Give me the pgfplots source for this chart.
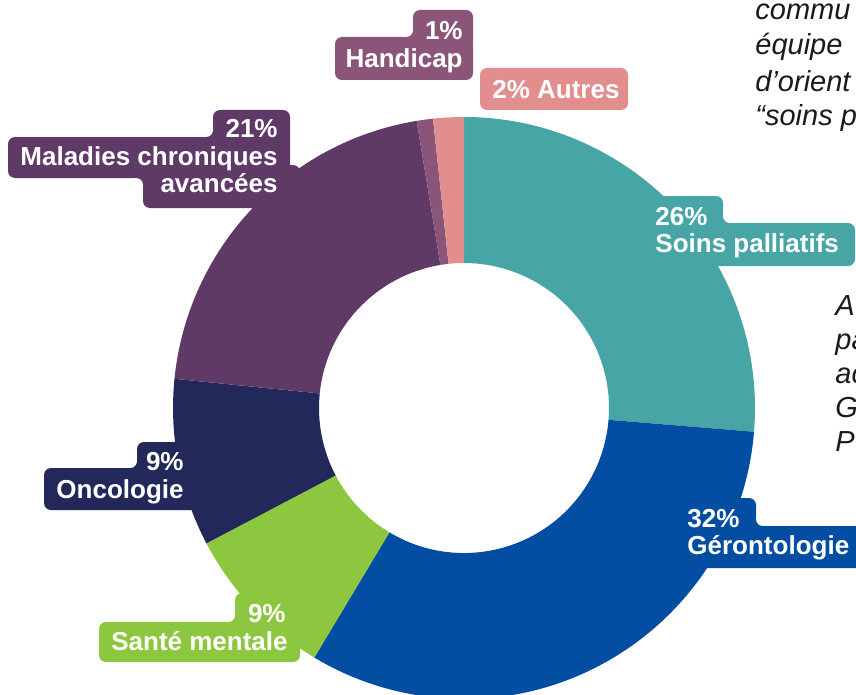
\documentclass[border=0pt]{standalone}
\usepackage{pgfplots}
\pgfplotsset{compat=1.18}
\usepackage{fontspec}
\setmainfont{Liberation Sans}

\definecolor{cSoins}{HTML}{48A5A5}
\definecolor{cGeronto}{HTML}{034EA2}
\definecolor{cSante}{HTML}{8DC63F}
\definecolor{cOnco}{HTML}{222859}
\definecolor{cMaladies}{HTML}{5F3A67}
\definecolor{cHandicap}{HTML}{8B5579}
\definecolor{cAutres}{HTML}{E28E8F}
\definecolor{cTexte}{HTML}{1A1A1A}

\newcommand\lbl{\fontsize{13bp}{15bp}\selectfont\bfseries}
\newcommand\itl{\fontsize{14.5bp}{17bp}\selectfont\itshape}

% ring: centre (464,408) px, outer 291 px, inner 145 px ; 1 px = 0.5bp
% #1 start (cumulative %), #2 end (cumulative %), #3 colour
\newcommand\slice[3]{%
  \fill[#3] (axis cs:{464+291*cos(90-3.6*#1)},{408-291*sin(90-3.6*#1)})
    arc[start angle={90-3.6*#1}, end angle={90-3.6*#2}, radius=145.5bp]
    -- (axis cs:{464+145*cos(90-3.6*#2)},{408-145*sin(90-3.6*#2)})
    arc[start angle={90-3.6*#2}, end angle={90-3.6*#1}, radius=72.5bp]
    -- cycle;}
% label box
\newcommand\lbox[5]{%
  \fill[#1, rounded corners=3.5bp] (axis cs:#2,#3) rectangle (axis cs:#4,#5);}
% concave corner: square corner (#2,#3)-(#4,#5), white circle at (#4,#5)
\newcommand\fillet[5]{%
  \fill[#1] (axis cs:#2,#3) rectangle (axis cs:#4,#5);
  \fill[white] (axis cs:#4,#5) circle[radius=3.5bp];}

\begin{document}
\begin{tikzpicture}
\begin{axis}[
    width=428bp, height=347.5bp,
    scale only axis,
    xmin=0, xmax=856,
    ymin=0, ymax=695,
    y dir=reverse,
    hide axis,
]
% slices, clockwise from the top
\slice{0}{26.3}{cSoins}
\slice{26.3}{58.6}{cGeronto}
\slice{58.6}{67.3}{cSante}
\slice{67.3}{76.6}{cOnco}
\slice{76.6}{97.4}{cMaladies}
\slice{97.4}{98.3}{cHandicap}
\slice{98.3}{100}{cAutres}

% label boxes
\lbox{cSoins}{620}{196}{723}{236}
\lbox{cSoins}{640}{223}{855}{266}
\fillet{cSoins}{723}{223}{730}{216}

\lbox{cGeronto}{660}{498}{756}{540}
\lbox{cGeronto}{660}{526}{880}{568}
\fillet{cGeronto}{756}{526}{763}{519}

\lbox{cSante}{235}{593}{300}{635}
\lbox{cSante}{99}{622}{300}{662}
\fillet{cSante}{235}{622}{228}{615}

\lbox{cOnco}{137}{442}{200}{482}
\lbox{cOnco}{44}{468}{200}{510}
\fillet{cOnco}{137}{468}{130}{461}

\lbox{cMaladies}{213}{110}{290}{150}
\lbox{cMaladies}{8}{137}{290}{178}
\lbox{cMaladies}{143}{165}{300}{208}
\fillet{cMaladies}{213}{137}{206}{130}
\fillet{cMaladies}{143}{178}{136}{185}

\lbox{cHandicap}{413}{10}{473}{48}
\lbox{cHandicap}{335}{37}{473}{80}
\fillet{cHandicap}{413}{37}{406}{30}

\lbox{cAutres}{480}{68}{628}{110}

% label texts
\begin{scope}[every node/.style={inner sep=0pt, text=white, font=\lbl}]
\node[anchor=base west] at (axis cs:655,225) {26\%};
\node[anchor=base west] at (axis cs:655,252) {Soins palliatifs};
\node[anchor=base west] at (axis cs:687,527) {32\%};
\node[anchor=base west] at (axis cs:687,554) {Gérontologie};
\node[anchor=base east] at (axis cs:286,622) {9\%};
\node[anchor=base east] at (axis cs:288,650) {Santé mentale};
\node[anchor=base east] at (axis cs:184,470) {9\%};
\node[anchor=base east] at (axis cs:184,498) {Oncologie};
\node[anchor=base east] at (axis cs:278,137) {21\%};
\node[anchor=base east] at (axis cs:278,165) {Maladies chroniques};
\node[anchor=base east] at (axis cs:278,192) {avancées};
\node[anchor=base east] at (axis cs:463,40) {1\%};
\node[anchor=base east] at (axis cs:463,67) {Handicap};
\node[anchor=base west] at (axis cs:492,98) {2\% Autres};
\end{scope}

% surrounding text, cut by the frame
\begin{scope}[every node/.style={inner sep=0pt, text=cTexte, font=\itl, anchor=base west}]
\node at (axis cs:755,20) {commu};
\node at (axis cs:755,55) {équipe};
\node at (axis cs:755,91) {d’orient};
\node at (axis cs:755,125) {“soins p};
\node at (axis cs:835,315) {A};
\node at (axis cs:835,349) {pa};
\node at (axis cs:835,383) {ac};
\node at (axis cs:835,417) {G};
\node at (axis cs:835,451) {P};
\end{scope}
\end{axis}
\pgfresetboundingbox
\path[use as bounding box] (0,0) rectangle (428bp,347.5bp);
\end{tikzpicture}
\end{document}
